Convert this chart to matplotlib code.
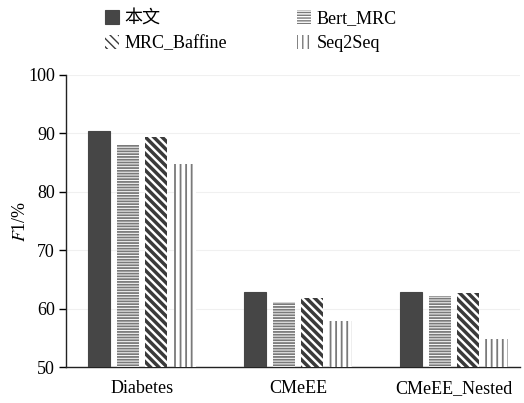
import matplotlib
matplotlib.use("Agg")
import matplotlib.pyplot as plt
import numpy as np

categories = ["Diabetes", "CMeEE", "CMeEE_Nested"]
series_names = ["本文", "Bert_MRC", "MRC_Baffine", "Seq2Seq"]
values_ours = [90.4, 62.9, 62.9]
values_bert = [88.0, 61.2, 62.1]
values_baffine = [89.3, 61.8, 62.7]
values_seq = [84.7, 57.9, 54.8]
yticks = [50, 60, 70, 80, 90, 100]

plt.rcParams['font.family'] = ['Liberation Serif', 'Noto Sans CJK SC']
plt.rcParams['mathtext.fontset'] = 'stix'

fig = plt.figure(figsize=(5.24, 4.03), dpi=100)
ax = fig.add_axes([0.126, 0.089, 0.866, 0.725])

x = np.arange(len(categories))
offsets = [-0.275, -0.09, 0.09, 0.275]
width = 0.145
all_vals = [values_ours, values_bert, values_baffine, values_seq]
styles = [
    dict(color='#464646', edgecolor='#464646', hatch=None, hlw=1.0),
    dict(color='white', edgecolor='#7a7a7a', hatch='------', hlw=1.3),
    dict(color='white', edgecolor='#3a3a3a', hatch='\\\\\\\\', hlw=2.5),
    dict(color='white', edgecolor='#7a7a7a', hatch='|||', hlw=1.3),
]
handles = []
for i, (vals, st) in enumerate(zip(all_vals, styles)):
    bars = ax.bar(x + offsets[i], vals, width, bottom=0, color=st['color'],
                  edgecolor=st['edgecolor'], hatch=st['hatch'],
                  linewidth=0 if st['hatch'] else 0.8, label=series_names[i], zorder=3)
    for b in bars:
        try:
            b.set_hatch_linewidth(st['hlw'])
        except Exception:
            pass
    handles.append(bars)

ax.set_ylim(50, 100)
ax.set_xlim(-0.487, 2.423)
ax.set_yticks(yticks)
ax.set_xticks(x)
ax.set_xticklabels(categories)
ax.tick_params(axis='x', length=0, labelsize=13, pad=9)
ax.tick_params(axis='y', direction='out', length=5, width=1, labelsize=13, pad=3)
for s in ['top', 'right']:
    ax.spines[s].set_visible(False)
for s in ['left', 'bottom']:
    ax.spines[s].set_linewidth(1.0)
    ax.spines[s].set_color('#222222')
ax.grid(axis='y', color='#f0f0f0', linewidth=0.8, zorder=0)
ax.set_ylabel('$F$1/%', fontsize=13, labelpad=-1)

order = [0, 2, 1, 3]
leg = fig.legend(handles=[handles[k] for k in order],
                 labels=[series_names[k] for k in order], ncol=2, loc='upper left',
                 bbox_to_anchor=(0.17, 1.015), frameon=False, fontsize=13,
                 handlelength=0.75, handleheight=0.75, handletextpad=0.3,
                 columnspacing=3.9, labelspacing=0.45)

fig.savefig('out.png', dpi=100)
